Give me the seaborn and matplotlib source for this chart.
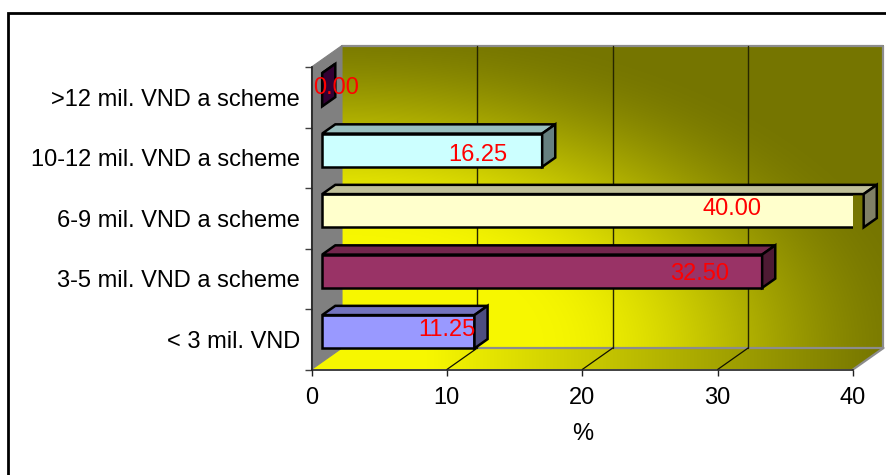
import numpy as np
import pandas as pd
import matplotlib
matplotlib.use("Agg")
import matplotlib.pyplot as plt
import seaborn as sns
from matplotlib.transforms import Affine2D, IdentityTransform
from matplotlib.patches import Polygon, Rectangle
from matplotlib.lines import Line2D

# ---- data -------------------------------------------------------------
categories = [
    ">12 mil. VND a scheme",
    "10-12 mil. VND a scheme",
    "6-9 mil. VND a scheme",
    "3-5 mil. VND a scheme",
    "< 3 mil. VND",
]
shares = [0.00, 16.25, 40.00, 32.50, 11.25]
x_ticks = [0, 10, 20, 30, 40]
x_title = "%"

# ---- styling ----------------------------------------------------------
face_colors = ["#660066", "#CCFFFF", "#FFFFCC", "#993366", "#9999FF"]
label_shift = [1.0, -4.75, -9.7, -4.6, -2.05]   # value-label nudge along the bar
label_drop = [0.0, 6.0, 0.0, 4.0, 0.0]          # value-label nudge downwards (px)
FS = 17

sns.set_theme(style="white")
plt.rcParams["font.family"] = ["Liberation Sans", "DejaVu Sans"]
plt.rcParams["text.color"] = "black"
plt.rcParams["xtick.color"] = "black"
plt.rcParams["ytick.color"] = "black"
plt.rcParams["axes.labelcolor"] = "black"

W, H = 887, 475
fig = plt.figure(figsize=(W / 100, H / 100), dpi=100)
fig.patch.set_facecolor("white")

# front plane of the box (pixels from top-left)
L, R, T, B = 311.5, 853.0, 67.0, 369.5
bg = fig.add_axes([0, 0, 1, 1], zorder=0)
bg.set_xlim(0, W)
bg.set_ylim(0, H)
bg.axis("off")

ax = fig.add_axes([L / W, 1 - B / H, (R - L) / W, (B - T) / H], zorder=2)
ax.patch.set_alpha(0)

df = pd.DataFrame({"category": categories, "share": shares})
BAR_H = 0.55
sns.barplot(data=df, x="share", y="category", order=categories,
            hue="category", hue_order=categories, palette=face_colors,
            legend=False, width=BAR_H, edgecolor="black", linewidth=1.8,
            saturation=1, orient="h", ax=ax)
ax.set_xlim(0, 40)
ax.set_ylim(len(categories) - 0.5, -0.5)

# depth direction of the box in pixels, and where the bars sit in depth
DEPTH = np.array([30.5, 21.5])
D0, D1 = 0.35, 0.78


def P(x, y, d):
    return ax.transData.transform((x, y)) + d * DEPTH


y_top, y_bot = -0.5, len(categories) - 0.5

# back wall with a corner gradient
yellow = np.array([0.97, 0.97, 0.0])
olive = np.array([0.46, 0.46, 0.0])
bl = P(0, y_bot, 1)
tr = P(40, y_top, 1)
u = np.linspace(0, 1, 500)[None, :]
v = np.linspace(0, 1, 300)[:, None]
r = np.sqrt(u ** 2 + v ** 2)
t = np.clip((r - 0.35) / 0.75, 0, 1)
t = t * t * (3 - 2 * t)
wall = yellow[None, None, :] * (1 - t[..., None]) + olive[None, None, :] * t[..., None]
bg.imshow(wall, origin="lower", extent=(bl[0], tr[0], bl[1], tr[1]),
          aspect="auto", interpolation="bilinear", zorder=1)
wall_outline = [P(0, y_top, 1), P(40, y_top, 1), P(40, y_bot, 1)]
bg.add_line(Line2D([p[0] for p in wall_outline], [p[1] for p in wall_outline],
                   color="#8c8c8c", lw=1.6, zorder=3))

# floor
floor_pts = np.array([P(0, y_bot, 0), P(40, y_bot, 0), P(40, y_bot, 1), P(0, y_bot, 1)])
fu = np.linspace(0, 1, 500)[None, :]
ft = np.clip((fu - 0.2) / 0.8, 0, 1)
ft = np.repeat(ft, 20, axis=0)
floor_img = yellow[None, None, :] * (1 - ft[..., None]) + olive[None, None, :] * ft[..., None]
im = bg.imshow(floor_img, origin="lower",
               extent=(floor_pts[:, 0].min(), floor_pts[:, 0].max(),
                       floor_pts[:, 1].min(), floor_pts[:, 1].max()),
               aspect="auto", interpolation="bilinear", zorder=2)
floor_patch = Polygon(floor_pts, closed=True, transform=bg.transData,
                      facecolor="none", edgecolor="none")
bg.add_patch(floor_patch)
im.set_clip_path(floor_patch)
for a, b in [(P(40, y_bot, 0), P(40, y_bot, 1)), (P(0, y_bot, 1), P(40, y_bot, 1))]:
    bg.add_line(Line2D([a[0], b[0]], [a[1], b[1]], color="#8c8c8c", lw=1.6, zorder=3))

# side wall
side = Polygon([P(0, y_top, 0), P(0, y_top, 1), P(0, y_bot, 1), P(0, y_bot, 0)],
               closed=True, facecolor="#808080", edgecolor="#808080", lw=0.8,
               transform=bg.transData, zorder=3)
bg.add_patch(side)

# gridlines on the back wall and across the floor
for xv in x_ticks[1:-1]:
    a, b = P(xv, y_top, 1), P(xv, y_bot, 1)
    bg.add_line(Line2D([a[0], b[0]], [a[1], b[1]], color="#262600", lw=1.0, zorder=3))
    a, b = P(xv, y_bot, 0), P(xv, y_bot, 1)
    bg.add_line(Line2D([a[0], b[0]], [a[1], b[1]], color="#111100", lw=0.9, zorder=3))

# bars: shift the front faces into depth, then add top and end faces
front_shift = ax.transData + Affine2D().translate(*(D0 * DEPTH))
for p in ax.patches:
    p.set_transform(front_shift)
    p.set_joinstyle("miter")


def shade(hex_color, k):
    rgb = np.array(matplotlib.colors.to_rgb(hex_color))
    return tuple(rgb * k)


for i, (val, col) in enumerate(zip(shares, face_colors)):
    y0, y1 = i - BAR_H / 2, i + BAR_H / 2
    top = Polygon([P(0, y0, D0), P(val, y0, D0), P(val, y0, D1), P(0, y0, D1)],
                  closed=True, facecolor=shade(col, 0.75), edgecolor="black",
                  lw=1.8, joinstyle="miter", transform=IdentityTransform(),
                  clip_on=False, zorder=3)
    end = Polygon([P(val, y0, D0), P(val, y0, D1), P(val, y1, D1), P(val, y1, D0)],
                  closed=True, facecolor=shade(col, 0.5), edgecolor="black",
                  lw=1.8, joinstyle="miter", transform=IdentityTransform(),
                  clip_on=False, zorder=3)
    ax.add_patch(top)
    ax.add_patch(end)
    ax.text(val + label_shift[i], i, f"{val:.2f}", color="#FF0000", fontsize=FS,
            ha="center", va="center",
            transform=front_shift + Affine2D().translate(0, 1.5 - label_drop[i]),
            clip_on=False, zorder=5)

# axes
for s in ["top", "right"]:
    ax.spines[s].set_visible(False)
for s in ["left", "bottom"]:
    ax.spines[s].set_color("#202020")
    ax.spines[s].set_linewidth(1.2)
ax.set_xticks(x_ticks)
ax.set_xticklabels([str(x) for x in x_ticks], fontsize=FS, color="black")
ax.tick_params(axis="x", which="major", length=4.5, width=1, color="#202020",
               direction="out", pad=8, bottom=True)
ax.set_yticks(range(len(categories)))
ax.set_yticklabels(categories, fontsize=FS, color="black")
ax.set_yticks(np.arange(-0.5, len(categories), 1), minor=True)
ax.tick_params(axis="y", which="major", length=0, pad=8.3, left=True)
ax.tick_params(axis="y", which="minor", length=5, width=1, color="#404040",
               direction="out", left=True)
ax.set_xlabel(x_title, fontsize=FS, labelpad=10, color="black")
ax.set_ylabel("")
ax.grid(False)

# chart frame
fig.add_artist(Rectangle((8 / W, -0.2), 1.2, 1.2 - 13 / H, transform=fig.transFigure,
                         facecolor="none", edgecolor="black", lw=2, zorder=10))

fig.savefig("out.png", dpi=100)
